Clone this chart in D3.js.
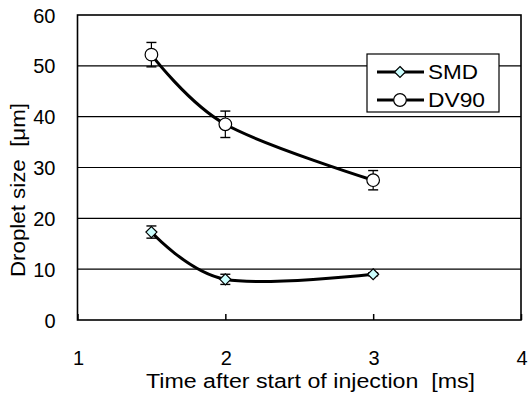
<!DOCTYPE html>
<html><head><meta charset="utf-8">
<script src="https://cdn.jsdelivr.net/npm/d3@7"></script>
<style>body{margin:0;background:#fff}svg{display:block}text{font-family:"Liberation Sans",Arial,sans-serif;fill:#000;white-space:pre}</style>
</head><body><div id="chart"></div>
<script>
const times = [1.5, 2, 3];
const smd = [17.3, 8.0, 9.0];
const smdErr = [1.2, 1.0, 0.3];
const dv90 = [52.2, 38.5, 27.5];
const dv90Err = [2.4, 2.6, 1.9];
const xTicks = [1, 2, 3, 4];
const yTicks = [0, 10, 20, 30, 40, 50, 60];
const seriesNames = ["SMD", "DV90"];

const W = 531, H = 411;
const FS = 20;
const svg = d3.select("#chart").append("svg").attr("width", W).attr("height", H);
const x = d3.scaleLinear().domain([1, 4]).range([77.5, 521]);
const y = d3.scaleLinear().domain([0, 60]).range([320, 15]);

// gridlines
svg.append("g").selectAll("line").data(yTicks.filter(v => v > 0 && v < 60)).join("line")
  .attr("x1", x(1)).attr("x2", x(4)).attr("y1", d => y(d)).attr("y2", d => y(d))
  .attr("stroke", "#000").attr("stroke-width", 1.2);

// border
svg.append("rect").attr("x", x(1)).attr("y", y(60)).attr("width", x(4) - x(1)).attr("height", y(0) - y(60))
  .attr("fill", "none").attr("stroke", "#000").attr("stroke-width", 1.6);

// x axis: inward ticks
const xAxis = d3.axisTop(x).tickValues(xTicks).tickSize(6).tickFormat("");
svg.append("g").attr("transform", `translate(0,${y(0)})`).call(xAxis)
  .call(g => { g.select(".domain").remove(); g.selectAll("line").attr("stroke", "#000").attr("stroke-width", 1.5); });
svg.append("g").selectAll("text").data(xTicks).join("text")
  .attr("x", d => x(d) + 1).attr("y", 365).attr("text-anchor", "middle").attr("font-size", FS).text(d => d);

// y axis labels
const yAxis = d3.axisLeft(y).tickValues(yTicks).tickSize(0).tickPadding(22);
svg.append("g").attr("transform", `translate(${x(1)},0)`).call(yAxis)
  .call(g => { g.select(".domain").remove(); g.selectAll("text").attr("font-size", FS).attr("font-family", "Liberation Sans, Arial, sans-serif").attr("fill", "#000").attr("dy", "0.35em"); });

// axis titles
svg.append("text").attr("x", 310.5).attr("y", 388).attr("text-anchor", "middle").attr("font-size", 20)
  .attr("textLength", 329).attr("lengthAdjust", "spacingAndGlyphs")
  .text("Time after start of injection  [ms]");
svg.append("text").attr("transform", "translate(25,190) rotate(-90)").attr("text-anchor", "middle").attr("font-size", 20)
  .attr("textLength", 174).attr("lengthAdjust", "spacingAndGlyphs")
  .text("Droplet size  [\u03bcm]");

const line = d3.line().x(d => x(d[0])).y(d => y(d[1])).curve(d3.curveCardinal.tension(0));

function drawSeries(vals, errs, shape) {
  const pts = times.map((t, i) => [t, vals[i], errs[i]]);
  const g = svg.append("g");
  g.selectAll("line.err").data(pts).join("g").each(function (d) {
    const s = d3.select(this);
    s.append("line").attr("x1", x(d[0])).attr("x2", x(d[0])).attr("y1", y(d[1] - d[2])).attr("y2", y(d[1] + d[2])).attr("stroke", "#000").attr("stroke-width", 1.2);
    [d[1] - d[2], d[1] + d[2]].forEach(v => s.append("line").attr("x1", x(d[0]) - 5).attr("x2", x(d[0]) + 5).attr("y1", y(v)).attr("y2", y(v)).attr("stroke", "#000").attr("stroke-width", 1.4));
  });
  g.append("path").datum(pts).attr("d", line).attr("fill", "none").attr("stroke", "#000").attr("stroke-width", 3);
  g.selectAll("path.m").data(pts).join("path").attr("class", "m")
    .attr("transform", d => `translate(${x(d[0])},${y(d[1])})`)
    .attr("d", shape)
    .attr("fill", shape === diamond ? "#ccffff" : "#fff").attr("stroke", "#000").attr("stroke-width", 1.2);
}
const diamond = "M0,-5.5L5.5,0L0,5.5L-5.5,0Z";
const circle = d3.symbol(d3.symbolCircle, Math.PI * 6.3 * 6.3)();

drawSeries(smd, smdErr, diamond);
drawSeries(dv90, dv90Err, circle);

// legend
const lg = svg.append("g");
lg.append("rect").attr("x", 367).attr("y", 54).attr("width", 132).attr("height", 58).attr("fill", "#fff").attr("stroke", "#000").attr("stroke-width", 1.2);
const items = [[seriesNames[0], diamond, "#ccffff", 72, 50], [seriesNames[1], circle, "#fff", 100, 57]];
items.forEach(([name, shp, fill, cy, len]) => {
  lg.append("line").attr("x1", 377).attr("x2", 424).attr("y1", cy).attr("y2", cy).attr("stroke", "#000").attr("stroke-width", 3);
  lg.append("path").attr("transform", `translate(400,${cy})`).attr("d", shp).attr("fill", fill).attr("stroke", "#000").attr("stroke-width", 1.2);
  lg.append("text").attr("x", 428).attr("y", cy).attr("dy", "0.36em").attr("font-size", 20)
    .attr("textLength", len).attr("lengthAdjust", "spacingAndGlyphs").text(name);
});
</script></body></html>
